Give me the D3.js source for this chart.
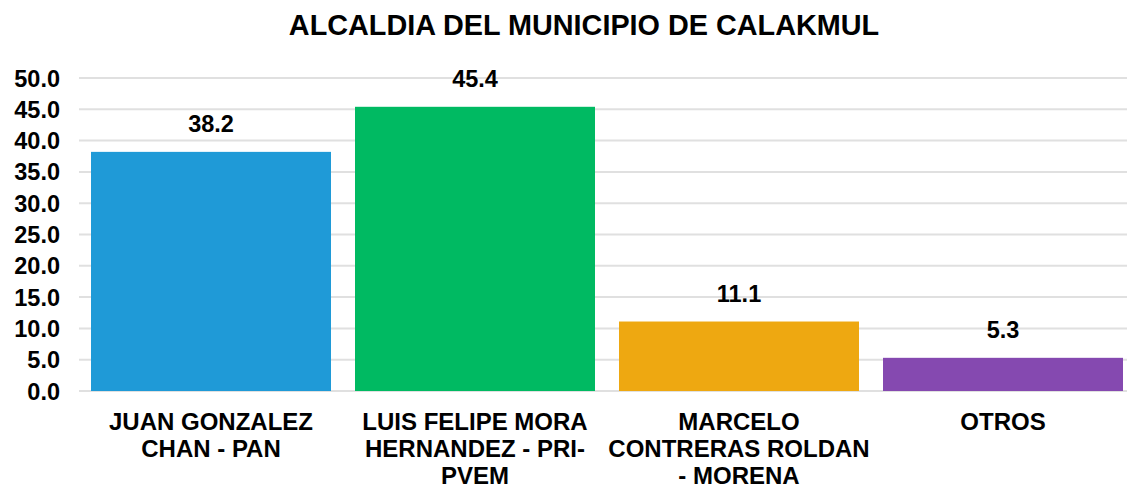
<!DOCTYPE html>
<html>
<head>
<meta charset="utf-8">
<script src="https://cdn.jsdelivr.net/npm/d3@7"></script>
<style>
    body { margin: 0; background: #fff; }
    svg text { font-family: "Liberation Sans", Arial, sans-serif; font-weight: bold; fill: #000; }
</style>
</head>
<body>
<div class="graph"></div>
<script>
// chart data
const title = "ALCALDIA DEL MUNICIPIO DE CALAKMUL";
const categories = [
    "JUAN GONZALEZ\nCHAN - PAN",
    "LUIS FELIPE MORA\nHERNANDEZ - PRI-\nPVEM",
    "MARCELO\nCONTRERAS ROLDAN\n- MORENA",
    "OTROS"
];
const values = [38.2, 45.4, 11.1, 5.3];
const bar_colors = ["#1f9ad7", "#00ba62", "#eea811", "#8549b0"];
const y_ticks = [0, 5, 10, 15, 20, 25, 30, 35, 40, 45, 50];

const svg_dimensions = {
    width: 1127,
    height: 491,
    left: 79,
    right: 1135,
    top: 78,
    bottom: 391
}

let svg = d3.select('.graph')
    .append('svg')
        .attr('width', svg_dimensions.width)
        .attr('height', svg_dimensions.height);

let x = d3.scaleBand()
    .domain(categories)
    .range([svg_dimensions.left, svg_dimensions.right])
    .paddingInner(0.0909)
    .paddingOuter(0.04545);

let y = d3.scaleLinear()
    .domain([0, 50])
    .range([svg_dimensions.bottom, svg_dimensions.top]);

svg.append('text')
    .attr('x', 584)
    .attr('y', 35)
    .attr('text-anchor', 'middle')
    .style('font-size', '28.8px')
    .text(title);

// gridlines
svg.append('g')
    .selectAll('line')
    .data(y_ticks).enter().append('line')
        .attr('x1', svg_dimensions.left)
        .attr('x2', svg_dimensions.right)
        .attr('y1', d => y(d))
        .attr('y2', d => y(d))
        .attr('stroke', '#e0e0e0')
        .attr('stroke-width', 2);

// y axis labels
let yAxis = d3.axisLeft(y).tickValues(y_ticks).tickFormat(d3.format('.1f')).tickSize(0).tickPadding(0);
let yAxis_g = svg.append('g')
    .attr('transform', 'translate(60,0)')
    .call(yAxis);
yAxis_g.select('.domain').remove();
yAxis_g.selectAll('text')
    .style('font-size', '23.5px')
    .attr('dy', '0.34em');

// bars
svg.append('g')
    .selectAll('rect')
    .data(values).enter().append('rect')
        .attr('x', (d, i) => x(categories[i]))
        .attr('y', d => y(d))
        .attr('width', x.bandwidth())
        .attr('height', d => y(0) - y(d))
        .attr('fill', (d, i) => bar_colors[i]);

// value labels
svg.append('g')
    .selectAll('text')
    .data(values).enter().append('text')
        .attr('x', (d, i) => x(categories[i]) + x.bandwidth() / 2)
        .attr('y', d => y(d) - 20)
        .attr('text-anchor', 'middle')
        .style('font-size', '23.5px')
        .text(d => d.toFixed(1));

// category labels
let cat_labels = svg.append('g')
    .selectAll('text')
    .data(categories).enter().append('text')
        .attr('text-anchor', 'middle')
        .style('font-size', '24px');

cat_labels.each(function (d) {
    const lines = d.split('\n');
    const cx = x(d) + x.bandwidth() / 2;
    d3.select(this).selectAll('tspan')
        .data(lines).enter().append('tspan')
            .attr('x', cx)
            .attr('y', (line, i) => 430 + i * 27)
            .text(line => line);
});
</script>
</body>
</html>
